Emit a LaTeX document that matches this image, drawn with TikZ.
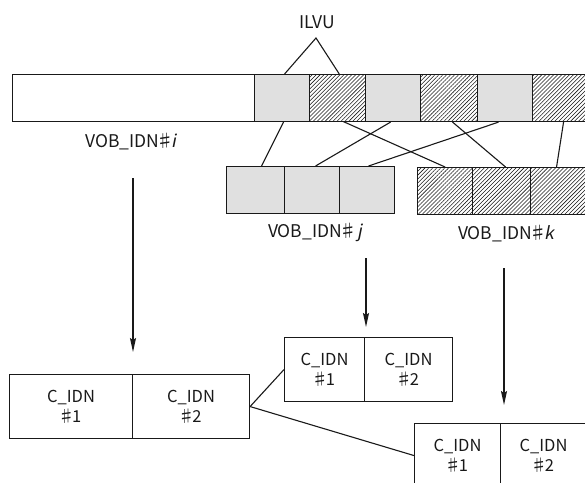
\documentclass[tikz,border=0pt]{standalone}
\usepackage{fontspec}
\newfontfamily\jp{Noto Sans CJK JP}
\newfontfamily\jpit[FakeSlant=0.2]{Noto Sans CJK JP}
\usetikzlibrary{patterns.meta,arrows.meta,calc}
\definecolor{lightg}{RGB}{224,224,224}
\definecolor{inkc}{RGB}{25,25,25}
\newcommand\mysharp{\hspace{-0.16em}♯\hspace{-0.14em}}
\begin{document}
\begin{tikzpicture}[x=1pt,y=-1pt,
  every node/.style={font=\jp\fontsize{16.5}{20}\selectfont, text=inkc},
  lbl/.style={font=\jp\fontsize{17.5}{21}\selectfont},
  cell/.style={draw=inkc, line width=1.1pt, inner sep=0pt, minimum height=47pt},
  graycell/.style={cell, fill=lightg},
  hatchcell/.style={cell, pattern={Lines[angle=45,distance=2.8pt,line width=0.55pt]}, pattern color=inkc},
  ccell/.style={draw=inkc, line width=1.1pt, inner sep=0pt, minimum height=64pt, align=center},
  conn/.style={draw=inkc, line width=1.1pt},
  arr/.style={draw=inkc, line width=1.4pt, -{Stealth[length=14pt,width=6pt,inset=2pt]}}
]
\useasboundingbox (0,0) rectangle (585,482);
\clip (0,0) rectangle (585,482);
% top bar
\node[cell, minimum width=242pt, anchor=north west] (bw) at (12,74) {};
\node[graycell, minimum width=55pt, anchor=north west] (c1) at (254,74) {};
\node[hatchcell, minimum width=56pt, anchor=north west] (c2) at (309,74) {};
\node[graycell, minimum width=55pt, anchor=north west] (c3) at (365,74) {};
\node[hatchcell, minimum width=57pt, anchor=north west] (c4) at (420,74) {};
\node[graycell, minimum width=55pt, anchor=north west] (c5) at (477,74) {};
\node[hatchcell, minimum width=60pt, anchor=north west] (c6) at (532,74) {};
% ILVU
\node[lbl] (ilvu) at (317,22) {ILVU};
\coordinate (apex) at (316,38);
\draw[conn] ([xshift=2.5pt]c1.north) -- (apex) -- ([xshift=2pt]c2.north);
\node[lbl] (li) at (131,142) {VOB\_IDN\mysharp{\jpit i}};
% j row
\node[graycell, minimum width=58pt, anchor=north west] (j1) at (226,166) {};
\node[graycell, minimum width=55pt, anchor=north west] (j2) at (284,166) {};
\node[graycell, minimum width=55pt, anchor=north west] (j3) at (339,166) {};
% k row
\node[hatchcell, minimum width=55pt, anchor=north west] (k1) at (417,167) {};
\node[hatchcell, minimum width=58pt, anchor=north west] (k2) at (472,167) {};
\node[hatchcell, minimum width=60pt, anchor=north west] (k3) at (530,167) {};
\node[lbl] (lj) at (315,232) {VOB\_IDN\mysharp{\jpit\,j}};
\node[lbl] (lk) at (506,234) {VOB\_IDN\mysharp{\jpit k}};
% interleave links
\draw[conn] ([xshift=1.5pt]c1.south) -- ([xshift=6pt]j1.north);
\draw[conn] ([xshift=6pt]c2.south) -- (k1.north);
\draw[conn] ([xshift=-2.5pt]c3.south) -- ([xshift=3.5pt]j2.north);
\draw[conn] ([xshift=3.5pt]c4.south) -- ([xshift=4pt]k2.north);
\draw[conn] ([xshift=-6.5pt]c5.south) -- ([xshift=1.5pt]j3.north);
\draw[conn] ([xshift=1pt]c6.south) -- ([xshift=-4pt]k3.north);
% bottom boxes
\node[ccell, minimum width=123pt, anchor=north west] (i1) at (9,374) {C\_IDN\\\mysharp1};
\node[ccell, minimum width=117pt, anchor=north west] (i2) at (132,374) {C\_IDN\\\mysharp2};
\node[ccell, minimum width=80pt, anchor=north west] (jb1) at (284,337) {C\_IDN\\\mysharp1};
\node[ccell, minimum width=88pt, anchor=north west] (jb2) at (364,337) {C\_IDN\\\mysharp2};
\node[ccell, minimum width=86pt, anchor=north west] (kb1) at (414,423) {C\_IDN\\\mysharp1};
\node[ccell, minimum width=86pt, anchor=north west] (kb2) at (500,423) {C\_IDN\\\mysharp2};
\draw[conn] (i2.east) -- (jb1.west);
\draw[conn] (i2.east) -- (kb1.west);
% arrows
\coordinate (ai0) at (133,178); \coordinate (ai1) at (133,352);
\coordinate (aj0) at (366,258); \coordinate (aj1) at (366,327);
\coordinate (ak0) at (504,268); \coordinate (ak1) at (504,405);
\draw[arr] (ai0) -- (ai1);
\draw[arr] (aj0) -- (aj1);
\draw[arr] (ak0) -- (ak1);
\end{tikzpicture}
\end{document}
